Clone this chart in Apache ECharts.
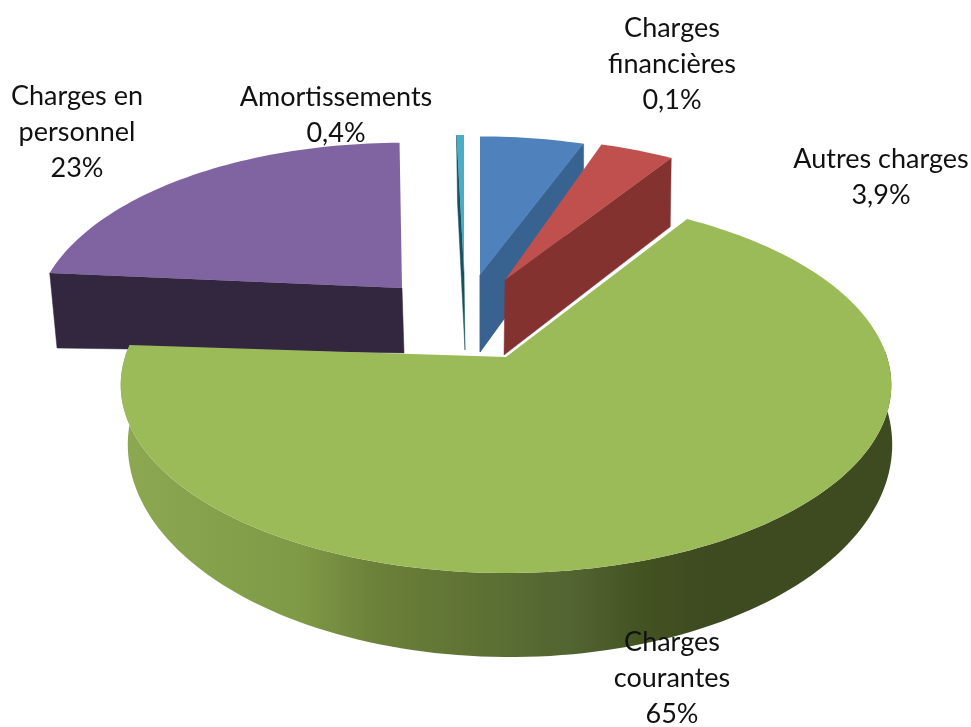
<!DOCTYPE html>
<html><head><meta charset="utf-8">
<style>html,body{margin:0;padding:0;background:#fff}#c{width:971px;height:727px}</style>
<script src="https://cdn.jsdelivr.net/npm/echarts@6/dist/echarts.min.js"></script>
</head><body><div id="c"></div>
<script>
// Data. The first slice carries no label in the reference.
const categories = ["", "Charges\nfinancières", "Autres charges", "Charges\ncourantes", "Charges en\npersonnel", "Amortissements"];
const shares = [5.6, 0.1, 3.9, 65, 23, 0.4];
const shareLabels = ["", "0,1%", "3,9%", "65%", "23%", "0,4%"];

// Styling and layout of each slice
const topColors = ["#4f81bd", "#4f81bd", "#c0504d", "#9bbb59", "#8064a2", "#4bacc6"];
const wallColors = ["#386391", "#386391", "#843230", "#6b8038", "#33263f", "#17505f"];
const sliceLayout = [
  {ax:480,ay:275,lx:480,ly:352,A:352,B:167,k:.205,sx:1,sy:1.08,z:1,from:0,to:-0.4,side:"end"},
  {ax:480,ay:275,lx:480,ly:352,A:352,B:167,k:.205,sx:1,sy:1.08,z:1,from:-0.4,to:-0.4,side:"end"},
  {ax:505,ay:280,lx:504,ly:355,A:355,B:171,k:.205,sx:1,sy:1.05,z:2,from:-2,to:-2,side:"end"},
  {ax:506,ay:357,lx:510,ly:413,A:381,B:183.8,k:.149,sx:0.992,sy:1.13,z:4,from:-2.9,to:-0.3,side:"none"},
  {ax:402,ay:288,lx:404,ly:353,A:360,B:175,k:.205,sx:0.985,sy:0.33,z:1,from:1,to:1,side:"start"},
  {ax:464,ay:272,lx:465,ly:350,A:352,B:165,k:.205,sx:1,sy:1.08,z:1,from:0,to:0,side:"start"}
];
const labelLayout = [null,{x:672,y:64},{x:881,y:177},{x:672,y:678},{x:77,y:132},{x:336,y:115}];

const total = shares.reduce((a, b) => a + b, 0);
const greenWall = new echarts.graphic.LinearGradient(123, 0, 893, 0, [
  {offset:0, color:"#8ca851"},{offset:0.23, color:"#7f9a46"},{offset:0.33, color:"#6b8039"},
  {offset:0.59, color:"#516330"},{offset:0.67, color:"#445322"},{offset:0.76, color:"#3e4a20"},{offset:1, color:"#3e4a20"}
], true);

function project(l, deg, lower) {
  const t = deg * Math.PI / 180, s = Math.sin(t), c = Math.cos(t), w = 1 + l.k * c;
  return lower
    ? [l.lx + l.A * l.sx * s / w, l.ly - l.B * l.sy * c / w]
    : [l.ax + l.A * s / w, l.ay - l.B * c / w];
}
function renderItem(params, api) {
  const i = params.dataIndex, l = sliceLayout[i];
  let before = 0;
  for (let k = 0; k < i; k++) before += shares[k];
  const start = before / total * 360 + l.from;
  const end = (before + api.value(0)) / total * 360 + l.to;
  const top = [], low = [], wallTop = [], wallLow = [], n = Math.max(2, Math.ceil((end - start) / 1.5));
  for (let k = 0; k <= n; k++) {
    const d = start + (end - start) * k / n;
    const pt = project(l, d, false), pl = project(l, d, true);
    top.push(pt);
    low.push(pl);
    if (Math.cos(d * Math.PI / 180) < 0.05) { wallTop.push(pt); wallLow.push(pl); }
  }
  const poly = (points, fill, z2, edge) => ({type:"polygon", z2, shape:{points},
    style:{fill, stroke: edge ? fill : null, lineWidth: edge ? 0.5 : 0}});
  const apexT = [l.ax, l.ay], apexL = [l.lx, l.ly];
  const children = [];
  if (l.side === "start") children.push(poly([apexT, top[0], low[0], apexL], wallColors[i], l.z * 10, true));
  if (l.side === "end") children.push(poly([apexT, top[n], low[n], apexL], wallColors[i], l.z * 10, true));
  if (wallTop.length > 1) children.push(poly(wallTop.concat(wallLow.slice().reverse()), i === 3 ? greenWall : wallColors[i], l.z * 10 + 1, false));
  children.push(poly([apexT].concat(top), topColors[i], l.z * 10 + 2, false));
  const pos = labelLayout[i];
  if (pos) children.push({type:"text", z2:100, style:{
    text: categories[i] + "\n" + shareLabels[i], x:pos.x, y:pos.y,
    align:"center", verticalAlign:"middle", lineHeight:36,
    font:"27px Lato", fill:"#111"
  }});
  return {type:"group", children};
}
const chart = echarts.init(document.getElementById("c"), null, {renderer:"canvas"});
chart.setOption({
  animation:false,
  backgroundColor:"#fff",
  series:[{type:"custom", coordinateSystem:"none", renderItem, data:shares.map(v => [v])}]
});
</script></body></html>
